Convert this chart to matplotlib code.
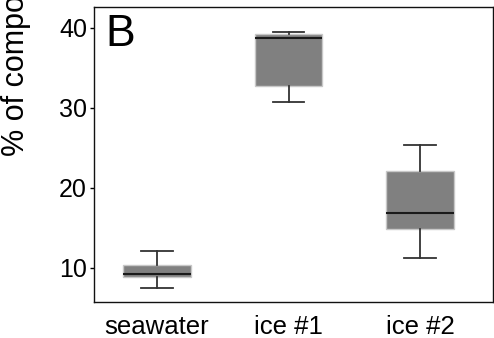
import matplotlib
import matplotlib.pyplot as plt

matplotlib.use("Agg")
plt.rcParams["font.family"] = ["Liberation Sans", "DejaVu Sans"]

## Data
groups = ["seawater", "ice #1", "ice #2"]
whislo = [7.5, 30.8, 11.3]
q1 = [8.9, 32.7, 14.9]
med = [9.25, 38.8, 16.9]
q3 = [10.4, 39.3, 22.1]
whishi = [12.1, 39.5, 25.4]
yticks = [10, 20, 30, 40]

stats = [
    {"label": g, "whislo": lo, "q1": a, "med": m, "q3": b, "whishi": hi, "fliers": []}
    for g, lo, a, m, b, hi in zip(groups, whislo, q1, med, q3, whishi)
]

fig = plt.figure(figsize=(4.94, 3.38), dpi=100)
ax = fig.add_axes([0.190, 0.1065, 0.808, 0.8725])

ax.bxp(
    stats,
    positions=[1, 2, 3],
    widths=0.51,
    patch_artist=True,
    showfliers=False,
    boxprops=dict(facecolor="#808080", edgecolor="#c8c8c8", linewidth=1),
    medianprops=dict(color="#1a1a1a", linewidth=1.5),
    whiskerprops=dict(color="#333333", linewidth=1.3),
    capprops=dict(color="#333333", linewidth=1.3),
    capwidths=0.24,
)

ax.set_xlim(0.52, 3.555)
ax.set_ylim(5.75, 42.6)
ax.set_yticks(yticks)
ax.set_xticks([1, 2, 3])
ax.set_xticklabels(groups)
ax.tick_params(axis="y", length=3, width=1, labelsize=18, pad=2)
ax.tick_params(axis="x", length=0, labelsize=18.5, pad=9)
for s in ax.spines.values():
    s.set_linewidth(1)
    s.set_color("#111111")

ax.text(0.03, 0.975, "B", transform=ax.transAxes, fontsize=32, va="top", ha="left")
# label runs off the top edge, as in the reference
fig.text(16 / 494, 1 - 156 / 338, "% of compounds", rotation=90, fontsize=22,
         ha="center", va="bottom")

fig.savefig("out.png", dpi=100)
